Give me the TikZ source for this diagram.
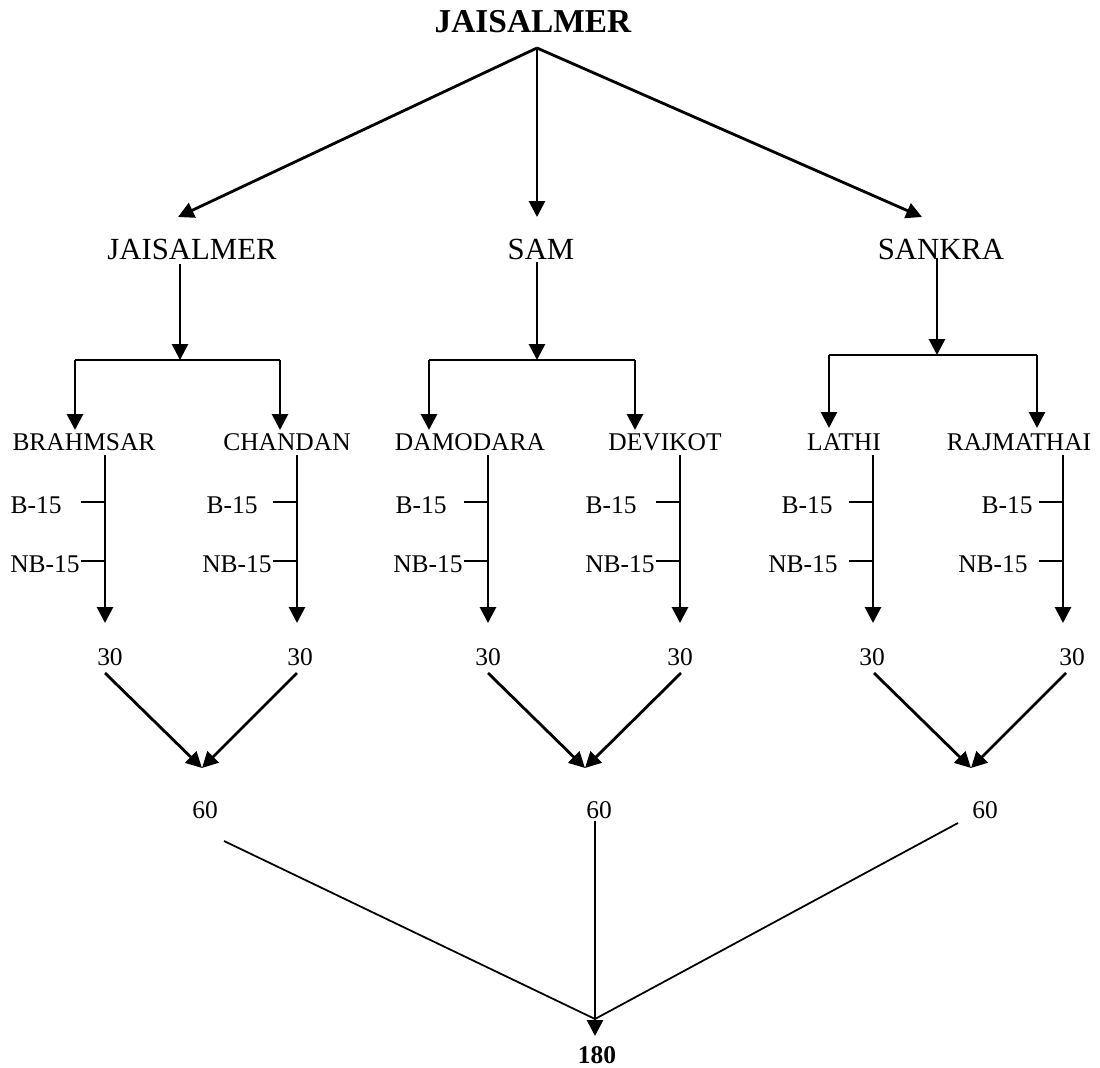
\documentclass[tikz,border=0pt]{standalone}
\usepackage{fontspec}
\setmainfont{Liberation Serif}
\usetikzlibrary{arrows.meta}

\begin{document}
\begin{tikzpicture}[x=0.02cm, y=-0.02cm,
    arr/.style={line width=1.6pt, -{Triangle[length=9pt,width=9pt]}},
    seg/.style={line width=1pt},
    lbl/.style={inner sep=0pt, anchor=base, font=\fontsize{14.5}{16}\selectfont},
    big/.style={inner sep=0pt, anchor=base, font=\fontsize{17.5}{20}\selectfont}]
    \useasboundingbox (0,0) rectangle (1100,1068);
    % top
    \node[inner sep=0pt, anchor=base, font=\fontsize{19}{21}\selectfont\bfseries] (title) at (533,33) {JAISALMER};
    \coordinate (T) at (537,48);
    \coordinate (tJ) at (178,217);
    \coordinate (tS) at (537,217);
    \coordinate (tK) at (922,217);
    \draw[arr] (T) -- (tJ);
    \draw[arr] (T) -- (tS);
    \draw[arr] (T) -- (tK);
    \node[big] (jai) at (192,259) {JAISALMER};
    \node[big] (sam) at (541,259) {SAM};
    \node[big] (san) at (941,259) {SANKRA};
    % brackets
    \coordinate (hJ) at (180,360);
    \coordinate (hS) at (537,360);
    \coordinate (hK) at (937,355);
    \draw[arr] (180,264) -- (hJ);
    \draw[arr] (537,262) -- (hS);
    \draw[arr] (937,258) -- (hK);
    \draw[seg] (75,360) -- (280,360);
    \draw[seg] (429,360) -- (635,360);
    \draw[seg] (829,355) -- (1037,355);
    \draw[arr] (75,360) -- (75,430);
    \draw[arr] (280,360) -- (280,430);
    \draw[arr] (429,360) -- (429,430);
    \draw[arr] (635,360) -- (635,430);
    \draw[arr] (829,355) -- (829,428);
    \draw[arr] (1037,355) -- (1037,428);
    % sums
    \coordinate (g1) at (202,768);
    \coordinate (g2) at (585,768);
    \coordinate (g3) at (971,768);
    \foreach \nm/\txt/\lx/\sx/\bx/\nx/\ox/\dx/\g in {
        br/BRAHMSAR/84/105/62/80/110/105/g1,
        ch/CHANDAN/287/297/258/272/300/297/g1,
        da/DAMODARA/470/488/447/463/488/488/g2,
        de/DEVIKOT/665/680/637/655/680/681/g2,
        la/LATHI/844/873/833/838/872/874/g3,
        ra/RAJMATHAI/1019/1063/1033/1028/1072/1066/g3}{
        \node[lbl] (\nm) at (\lx,450) {\txt};
        \coordinate (\nm-top) at (\sx,455);
        \coordinate (\nm-end) at (\sx,623);
        \draw[arr] (\nm-top) -- (\nm-end);
        \draw[seg] (\sx-24,502) -- (\sx,502);
        \draw[seg] (\sx-24,561) -- (\sx,561);
        \node[lbl, anchor=base east] (\nm-b) at (\bx,513) {B-15};
        \node[lbl, anchor=base east] (\nm-nb) at (\nx,572) {NB-15};
        \node[lbl] (\nm-sum) at (\ox,665) {30};
        \draw[arr] (\dx,673) -- (\g);
    }
    \node[lbl] (s1) at (205,818) {60};
    \node[lbl] (s2) at (599,818) {60};
    \node[lbl] (s3) at (985,818) {60};
    % total
    \coordinate (M) at (595,1019);
    \coordinate (E) at (595,1036);
    \draw[seg] (224,841) -- (M);
    \draw[seg] (958,823) -- (M);
    \draw[arr] (595,821) -- (E);
    \node[lbl, font=\fontsize{14.5}{16}\selectfont\bfseries] (tot) at (597,1063) {180};
\end{tikzpicture}
\end{document}
